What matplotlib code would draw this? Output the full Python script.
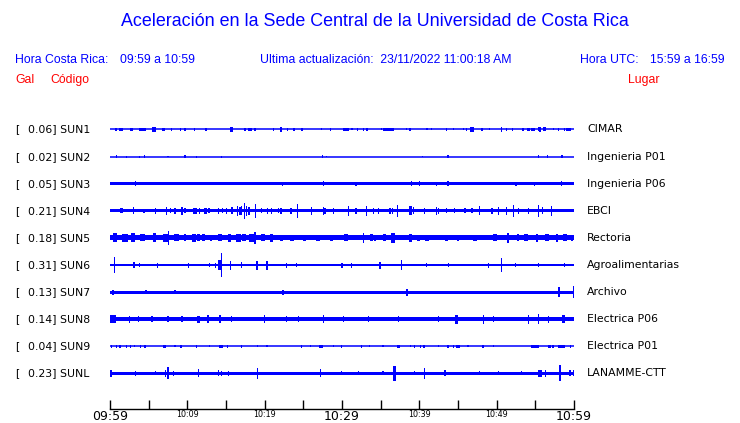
import matplotlib
matplotlib.use("Agg")
import matplotlib.pyplot as plt

blue = '#0000ff'
red = '#ff0000'

# station info
codes = ['SUN1', 'SUN2', 'SUN3', 'SUN4', 'SUN5', 'SUN6', 'SUN7', 'SUN8', 'SUN9', 'SUNL']
peaks = ['0.06', '0.02', '0.05', '0.21', '0.18', '0.31', '0.13', '0.14', '0.04', '0.23']
places = ['CIMAR', 'Ingenieria P01', 'Ingenieria P06', 'EBCI', 'Rectoria',
          'Agroalimentarias', 'Archivo', 'Electrica P06', 'Electrica P01', 'LANAMME-CTT']
# half thickness of the background noise band (px)
noise = [0.5, 0.5, 1.6, 1.6, 2.5, 1.4, 1.5, 2.2, 0.5, 1.7]

# bursts: (minute after 09:59, half amplitude px, duration min)
sun1 = [(0.8, 1.5, 0.3), (1.4, 1.5, 0.6), (2.8, 1.5, 0.4), (4.2, 1.5, 0.8), (5.7, 2.5, 0.6),
        (6.9, 1.5, 0.3), (8.0, 1.5, 0.1), (9.1, 1.5, 0.05), (9.7, 1.5, 0.05), (10.9, 1.5, 0.05),
        (12.3, 1.5, 0.05), (12.5, 1.5, 0.05), (15.7, 2.5, 0.4), (17.5, 1.5, 0.3), (18.1, 1.5, 0.5),
        (18.75, 1.2, 0.3), (21.1, 1.2, 0.05), (22.1, 2.5, 0.1), (23.0, 1.5, 0.05), (23.8, 1.5, 0.3),
        (24.8, 1.5, 0.3), (27.4, 1.0, 0.05), (28.5, 1.5, 0.05), (30.5, 1.5, 0.7), (31.3, 1.0, 0.05),
        (32.0, 1.5, 0.1), (32.8, 1.5, 0.1), (33.2, 1.5, 0.2), (35.1, 1.0, 0.05), (36.0, 1.5, 1.4),
        (38.3, 1.0, 0.05), (38.8, 1.5, 0.05), (41.0, 1.0, 0.05), (41.6, 1.0, 0.05), (43.5, 1.5, 0.05),
        (44.4, 1.0, 0.05), (45.7, 1.0, 0.05), (46.1, 1.5, 0.05), (46.8, 2.5, 0.5), (48.1, 1.5, 0.1),
        (49.05, 1.0, 0.05), (50.6, 2.5, 0.2), (51.3, 1.5, 0.1), (52.0, 1.5, 0.1), (53.4, 1.5, 0.2),
        (54.1, 1.5, 0.3), (54.7, 1.5, 0.6), (55.4, 2.0, 0.05), (55.6, 2.5, 0.05), (56.2, 2.0, 0.3),
        (57.3, 1.0, 0.05), (58.0, 1.5, 0.05), (58.8, 1.5, 0.1), (59.3, 1.5, 0.7)]
sun2 = [(0.86, 1.5, 0.05), (2.16, 1.0, 0.05), (3.8, 1.0, 0.05), (4.5, 1.5, 0.05), (7.5, 0.8, 0.05),
        (9.7, 1.5, 0.2), (11.2, 1.0, 0.05), (14.4, 1.0, 0.05), (27.5, 1.5, 0.2), (28.0, 0.8, 0.05),
        (40.4, 0.8, 0.05), (43.7, 1.5, 0.2), (55.4, 1.2, 0.05), (56.6, 1.5, 0.05), (58.4, 1.5, 0.25)]
sun3 = [(3.3, 2.5, 0.1), (22.3, 2.0, 0.05), (27.6, 2.5, 0.1), (31.8, 2.0, 0.05), (39.0, 2.5, 0.1),
        (40.0, 2.5, 0.1), (42.2, 2.0, 0.05), (43.7, 2.2, 0.1), (52.5, 2.0, 0.05), (54.9, 2.0, 0.05),
        (58.4, 2.5, 0.1)]
sun4 = [(1.5, 2.5, 0.4), (3.0, 3.3, 0.1), (4.4, 2.2, 0.05), (5.9, 3.2, 0.1), (7.3, 4.0, 0.1),
        (7.8, 2.5, 0.1), (8.4, 3.0, 0.1), (9.3, 4.0, 0.1), (9.7, 2.5, 0.1), (11.0, 3.0, 0.5),
        (11.6, 3.0, 0.1), (12.3, 3.0, 0.4), (12.8, 2.5, 0.1), (14.0, 3.0, 0.1), (14.5, 2.5, 0.1),
        (15.1, 3.0, 0.1), (15.8, 3.5, 0.2), (16.5, 5.0, 0.1), (16.8, 4.0, 0.1), (17.0, 4.5, 0.1),
        (17.4, 8.0, 0.1), (17.7, 5.0, 0.1), (18.0, 4.0, 0.2), (18.8, 7.0, 0.1), (19.6, 2.5, 0.2),
        (20.4, 3.0, 0.1), (20.9, 3.0, 0.1), (21.8, 2.5, 0.1), (22.1, 3.0, 0.1), (23.4, 3.0, 0.1),
        (24.2, 7.0, 0.1), (26.1, 4.0, 0.1), (27.6, 4.0, 0.1), (27.8, 3.0, 0.2), (28.9, 3.0, 0.1),
        (30.8, 5.0, 0.1), (31.8, 3.0, 0.1), (33.2, 5.0, 0.1), (34.1, 3.0, 0.1), (34.7, 3.0, 0.1),
        (36.2, 3.0, 0.1), (36.5, 3.0, 0.1), (37.2, 6.0, 0.1), (38.9, 4.5, 0.4), (39.2, 3.5, 0.1),
        (40.7, 3.0, 0.1), (42.2, 4.0, 0.1), (42.5, 3.0, 0.1), (43.5, 2.5, 0.1), (44.5, 2.5, 0.1),
        (45.9, 2.5, 0.1), (46.8, 2.5, 0.1), (47.8, 4.5, 0.1), (49.4, 3.0, 0.1), (50.2, 4.0, 0.1),
        (51.3, 4.0, 0.1), (52.2, 6.0, 0.1), (52.8, 3.0, 0.2), (54.1, 3.0, 0.1), (55.4, 6.0, 0.1),
        (55.9, 3.5, 0.1), (57.1, 5.0, 0.1)]
sun5 = [(0.65, 4.5, 0.5), (1.9, 4.0, 0.8), (3.0, 4.5, 0.5), (4.2, 3.5, 0.6), (5.8, 4.5, 0.4),
        (7.6, 7.0, 0.1), (7.2, 4.0, 0.8), (8.6, 3.5, 0.6), (9.7, 3.5, 0.3), (10.9, 4.0, 0.5),
        (11.5, 3.5, 0.4), (12.1, 3.5, 0.4), (13.1, 3.0, 0.3), (14.2, 3.5, 0.5), (15.5, 4.0, 0.4),
        (16.6, 4.0, 0.6), (17.3, 3.5, 0.5), (18.75, 6.0, 0.1), (18.4, 4.0, 0.8), (19.8, 3.5, 0.5),
        (20.9, 4.0, 0.3), (22.2, 3.0, 0.4), (23.5, 3.0, 0.5), (25.2, 3.0, 0.4), (26.9, 3.0, 0.5),
        (28.7, 3.0, 0.4), (30.5, 3.5, 0.5), (32.8, 5.0, 0.1), (33.8, 3.5, 0.4), (34.3, 3.0, 0.3),
        (35.5, 3.5, 0.5), (36.6, 5.0, 0.6), (38.8, 4.0, 0.4), (39.9, 3.0, 0.5), (41.0, 3.0, 0.5),
        (43.5, 3.0, 0.4), (45.0, 3.0, 0.3), (47.2, 3.0, 0.4), (49.8, 3.5, 0.6), (51.5, 5.0, 0.3),
        (52.8, 3.5, 0.3), (53.8, 3.5, 0.5), (55.2, 4.0, 0.3), (56.5, 3.5, 0.6), (57.8, 4.0, 0.3),
        (58.8, 3.5, 0.5), (59.7, 3.0, 0.3)]
sun6 = [(0.56, 8.0, 0.05), (3.1, 3.0, 0.05), (3.8, 2.0, 0.05), (6.1, 2.5, 0.1), (10.1, 2.5, 0.1),
        (12.9, 2.0, 0.1), (13.6, 2.5, 0.1), (14.4, 12.0, 0.1), (14.2, 5.0, 0.5), (15.6, 4.5, 0.1),
        (17.0, 3.0, 0.1), (19.0, 4.5, 0.2), (20.3, 4.5, 0.1), (22.8, 2.5, 0.1), (24.1, 2.0, 0.1),
        (30.0, 2.5, 0.1), (31.25, 2.5, 0.1), (34.9, 3.5, 0.2), (37.7, 5.0, 0.1), (40.9, 2.0, 0.1),
        (43.75, 2.0, 0.1), (48.9, 2.5, 0.1), (50.6, 7.0, 0.05), (52.4, 2.0, 0.1), (55.4, 2.0, 0.1),
        (58.8, 2.0, 0.1)]
sun7 = [(0.43, 2.5, 0.3), (4.65, 2.0, 0.1), (8.4, 2.0, 0.1), (22.4, 2.5, 0.3), (38.4, 3.5, 0.1),
        (58.1, 5.0, 0.3), (59.9, 6.0, 0.05)]
sun8 = [(0.2, 4.0, 1.2), (2.5, 3.5, 0.1), (3.7, 3.0, 0.2), (5.4, 3.0, 0.2), (7.5, 3.0, 0.2),
        (9.3, 3.0, 0.2), (11.5, 3.5, 0.4), (12.7, 4.0, 0.2), (14.2, 4.0, 0.3), (15.7, 3.0, 0.2),
        (20.0, 4.0, 0.2), (22.8, 3.0, 0.2), (24.4, 3.0, 0.2), (27.6, 4.0, 0.2), (30.2, 3.0, 0.2),
        (33.4, 3.0, 0.2), (37.3, 3.0, 0.2), (42.5, 3.0, 0.2), (44.8, 4.5, 0.5), (48.3, 4.5, 0.1),
        (49.6, 3.0, 0.2), (54.1, 4.5, 0.2), (55.4, 5.0, 0.2), (56.7, 3.5, 0.2), (58.6, 4.0, 0.4)]
sun9 = [(0.2, 1.5, 0.1), (0.86, 1.5, 0.2), (1.3, 1.5, 0.1), (2.1, 1.5, 0.1), (2.6, 1.5, 0.1),
        (3.2, 1.0, 0.05), (3.9, 1.5, 0.1), (4.5, 1.5, 0.3), (7.1, 1.5, 0.4), (8.4, 1.0, 0.05),
        (9.2, 1.5, 0.3), (11.2, 1.5, 0.1), (12.9, 1.0, 0.05), (14.3, 1.5, 0.5), (15.2, 1.5, 0.1),
        (17.0, 1.5, 0.1), (19.05, 1.0, 0.05), (20.3, 1.0, 0.05), (24.8, 1.5, 0.1), (25.9, 1.0, 0.05),
        (27.3, 1.5, 0.5), (28.9, 1.0, 0.05), (29.9, 1.5, 0.1), (32.5, 1.5, 0.1), (33.6, 1.0, 0.05),
        (35.3, 1.0, 0.05), (37.3, 1.5, 0.4), (38.9, 1.0, 0.05), (39.4, 1.5, 0.1), (40.1, 1.5, 0.1),
        (40.6, 1.5, 0.1), (42.5, 1.0, 0.05), (43.7, 1.5, 0.1), (44.4, 1.5, 0.1), (45.0, 1.5, 0.4),
        (46.3, 1.0, 0.05), (48.2, 1.5, 0.2), (49.6, 1.0, 0.05), (55.0, 1.5, 1.0), (56.8, 1.5, 0.4),
        (57.3, 1.5, 0.2), (58.4, 1.5, 1.0), (59.5, 1.5, 0.1)]
sunl = [(0.1, 3.5, 0.2), (3.3, 2.5, 0.05), (5.9, 2.0, 0.05), (7.2, 3.5, 0.2), (7.5, 6.0, 0.05),
        (8.2, 2.5, 0.1), (11.4, 4.0, 0.05), (14.0, 3.0, 0.1), (14.4, 2.5, 0.1), (15.3, 2.5, 0.1),
        (19.05, 5.5, 0.05), (27.2, 4.0, 0.2), (29.9, 2.0, 0.1), (32.1, 2.0, 0.1), (35.3, 2.0, 0.1),
        (36.8, 7.5, 0.3), (39.4, 2.0, 0.1), (40.7, 5.5, 0.1), (43.3, 3.0, 0.2), (47.8, 2.0, 0.1),
        (50.2, 2.0, 0.1), (53.2, 2.0, 0.1), (55.6, 3.5, 0.6), (56.3, 3.5, 0.1), (58.2, 8.0, 0.05),
        (59.5, 3.0, 0.2), (59.9, 3.0, 0.05)]
bursts = [sun1, sun2, sun3, sun4, sun5, sun6, sun7, sun8, sun9, sunl]

tick_min = list(range(0, 61, 5))
tick_text = {0: '09:59', 10: '10:09', 20: '10:19', 30: '10:29', 40: '10:39', 50: '10:49', 60: '10:59'}

W, H = 740, 423
fig = plt.figure(figsize=(W / 100, H / 100), dpi=100)
fig.patch.set_facecolor('white')

spacing = 27.1   # px between traces
first_y = 129.5
x0, x1 = 110, 574
top = first_y - spacing / 2
bot = first_y + 9.5 * spacing

ax = fig.add_axes([x0 / W, 1 - bot / H, (x1 - x0) / W, (bot - top) / H])
ax.set_xlim(0, 60)
ax.set_ylim(9.5, -0.5)
ax.axis('off')

px_min = 60 / (x1 - x0)
for i in range(len(codes)):
    half = noise[i] / spacing
    if noise[i] <= 0.5:
        ax.plot([0, 60], [i, i], color=blue, lw=1.1, solid_capstyle='butt')
    else:
        ax.fill_between([0, 60], i - half, i + half, color=blue, lw=0)
    for m, amp, dur in bursts[i]:
        a = amp / spacing
        ax.bar(m, 2 * a, width=max(dur, 1.2 * px_min), bottom=i - a, color=blue,
               linewidth=0, antialiased=False)

# time axis
tax = fig.add_axes([x0 / W, 1 - 409 / H, (x1 - x0) / W, 20 / H])
tax.set_facecolor('none')
tax.set_xlim(0, 60)
tax.set_yticks([])
for s in ['left', 'right', 'top']:
    tax.spines[s].set_visible(False)
tax.spines['bottom'].set_linewidth(1.0)
tax.set_xticks(tick_min)
tax.set_xticklabels([tick_text.get(t, '') for t in tick_min])
tax.tick_params(axis='x', direction='in', length=6.5, width=1.0, pad=1)
for t, lab in zip(tick_min, tax.get_xticklabels()):
    if t % 30 == 0:
        lab.set_fontsize(9.0)
    else:
        lab.set_fontsize(5.8)
        lab.set_y(0.01)

# header texts
def ftxt(x, y, s, **kw):
    fig.text(x / W, 1 - y / H, s, **kw)

ftxt(375, 22, 'Aceleración en la Sede Central de la Universidad de Costa Rica', color=blue,
     fontsize=12.9, family='Liberation Sans', ha='center', va='center')
hk = dict(color=blue, fontsize=8.8, family='Liberation Sans', va='center')
ftxt(15, 60, 'Hora Costa Rica:', **hk)
ftxt(120, 60, '09:59 a 10:59', **hk)
ftxt(260, 60, 'Ultima actualización:  23/11/2022 11:00:18 AM', **hk)
ftxt(580, 60, 'Hora UTC:', **hk)
ftxt(650, 60, '15:59 a 16:59', **hk)
rk = dict(color=red, fontsize=8.8, family='Liberation Sans', va='center')
ftxt(15, 80, 'Gal', **rk)
ftxt(50, 80, 'Código', **rk)
ftxt(628, 80, 'Lugar', **rk)

for i in range(len(codes)):
    y = first_y + i * spacing
    ftxt(15, y, '[', fontsize=7.8, va='center')
    ftxt(28, y, peaks[i] + '] ' + codes[i], fontsize=7.8, va='center')
    ftxt(587, y, places[i], fontsize=7.8, va='center')

fig.savefig('out.png', dpi=100)
